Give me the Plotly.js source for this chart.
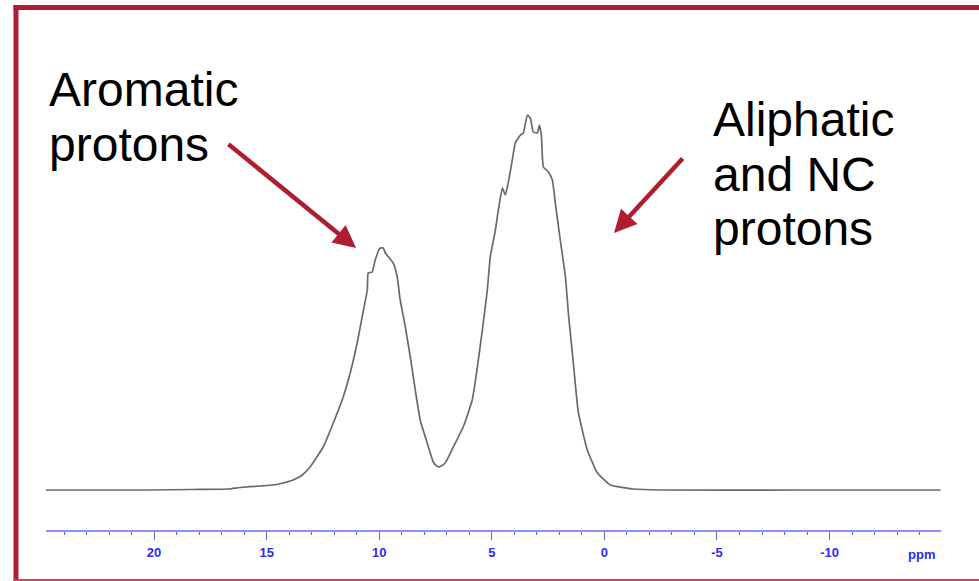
<!DOCTYPE html>
<html>
<head>
<meta charset="utf-8">
<script src="https://cdn.plot.ly/plotly-3.0.1.min.js"></script>
<style>
  html, body { margin: 0; padding: 0; background: #ffffff; }
  #chart { width: 979px; height: 581px; }
</style>
</head>
<body>
<div id="chart"></div>
<script>
// Chemical shift (ppm)
const shiftPpm = [24.8, 22.4, 20.18, 18.31, 16.71, 16.18, 15.29, 14.71, 14.27, 13.82, 13.42, 13.07,
  12.49, 12.04, 11.6, 11.29, 10.98, 10.76, 10.53, 10.49, 10.31, 10.18, 9.96, 9.82, 9.73, 9.38,
  9.2, 9.07, 8.84, 8.62, 8.4, 8.18, 7.87, 7.6, 7.45, 7.3, 7.07, 6.71, 6.27, 5.87, 5.64, 5.42, 5.2,
  5.07, 4.84, 4.71, 4.53, 4.4, 4.27, 4.09, 3.96, 3.73, 3.6, 3.42, 3.29, 3.16, 2.98, 2.89, 2.8,
  2.71, 2.49, 2.31, 2.18, 1.96, 1.73, 1.6, 1.38, 1.16, 0.76, 0.31, -0.27, -1.29, -2.49, -8.71, -14.93];
// Signal intensity (relative, tallest peak = 100)
const intensity = [0, 0, 0, 0.13, 0.27, 0.67, 1.07, 1.33, 1.87, 2.67, 4.0, 6.13,
  11.47, 17.87, 24.8, 31.2, 39.2, 46.13, 53.33, 57.87, 58.13, 61.33, 64.53, 64.53, 63.2, 60.53,
  56.8, 50.67, 43.47, 35.47, 26.67, 18.67, 12.53, 7.47, 6.4, 6.2, 7.2, 11.47, 16.8, 24.0, 32.8, 42.67, 53.33,
  62.13, 69.33, 74.67, 80.53, 78.67, 81.87, 88.0, 92.53, 94.67, 95.2, 100.0, 99.2, 95.47, 95.2, 97.33, 94.67,
  86.13, 84.8, 82.67, 76.53, 66.67, 56.8, 47.2, 33.87, 20.8, 10.67, 4.53, 1.33, 0.27, 0, 0, 0];

const tickValues = [20, 15, 10, 5, 0, -5, -10];
const tickLabels = ["20", "15", "10", "5", "0", "-5", "-10"];
const axisUnit = "ppm";
const leftLabel = ["Aromatic", "protons"];
const rightLabel = ["Aliphatic", "and NC", "protons"];

// layout geometry (pixels)
const W = 979, H = 581;
const mL = 46, mR = 38, mT = 0, mB = 51;
const pw = W - mL - mR, ph = H - mT - mB;
const px = x => (x - mL) / pw;
const py = y => (H - mB - y) / ph;

const red = "#b01d30";
const blue = "#2b2bef";
const textFont = { family: "Liberation Sans, Arial, sans-serif", size: 48, color: "#000000" };

const annotations = [];
function txt(s, x, y) {
  annotations.push({ text: s, xref: "paper", yref: "paper", x: px(x), y: py(y),
    xanchor: "left", yanchor: "middle", showarrow: false, font: textFont });
}
txt(leftLabel[0], 47, 90);
txt(leftLabel[1], 47, 144);
txt(rightLabel[0], 711, 120);
txt(rightLabel[1], 711, 174);
txt(rightLabel[2], 711, 228);

function arrow(tipX, tipY, tailX, tailY) {
  annotations.push({ text: "", xref: "paper", yref: "paper", x: px(tipX), y: py(tipY),
    ax: tailX - tipX, ay: tailY - tipY, showarrow: true, arrowhead: 2, arrowsize: 1,
    arrowwidth: 4.5, arrowcolor: red, standoff: 0 });
}
arrow(356, 248, 227, 143);
arrow(614, 233, 684, 157);

annotations.push({ text: "<b>" + axisUnit + "</b>", xref: "paper", yref: "paper",
  x: px(921), y: py(554), xanchor: "center", yanchor: "middle", showarrow: false,
  font: { family: "Liberation Sans, Arial, sans-serif", size: 13, color: blue } });

const shapes = [
  { type: "rect", xref: "paper", yref: "paper", x0: px(13.5), x1: px(18.5), y0: py(5), y1: py(581),
    fillcolor: red, line: { width: 0 } },
  { type: "rect", xref: "paper", yref: "paper", x0: px(13.5), x1: px(979), y0: py(5), y1: py(10),
    fillcolor: red, line: { width: 0 } },
  { type: "rect", xref: "paper", yref: "paper", x0: px(13.5), x1: px(979), y0: py(579), y1: py(581),
    fillcolor: "#c9485a", line: { width: 0 } }
];

const trace = {
  x: shiftPpm, y: intensity, type: "scatter", mode: "lines",
  line: { color: "#6a6a6a", width: 1.7, shape: "spline", smoothing: 0.4 }, hoverinfo: "skip"
};

const baselinePx = 490, peakPx = 115;
const unitPx = (baselinePx - peakPx) / 100;
const yMin = -(H - mB - baselinePx) / unitPx;
const yMax = (baselinePx - mT) / unitPx;

const layout = {
  width: W, height: H,
  margin: { l: mL, r: mR, t: mT, b: mB, pad: 0 },
  paper_bgcolor: "#ffffff", plot_bgcolor: "#ffffff",
  showlegend: false,
  xaxis: {
    range: [24.8, -14.95], autorange: false,
    showgrid: false, zeroline: false,
    showline: true, linecolor: "#8d8dfb", linewidth: 2,
    ticks: "outside", ticklen: 8, tickwidth: 1, tickcolor: "#5a5af5",
    tickvals: tickValues, ticktext: tickLabels,
    tickfont: { family: "Liberation Sans, Arial, sans-serif", size: 13, color: blue, weight: "bold" },
    ticklabelstandoff: 1,
    minor: { dtick: 1, tick0: 0, ticks: "outside", ticklen: 3, tickwidth: 1, tickcolor: "#5a5af5", showgrid: false }
  },
  yaxis: { range: [yMin, yMax], autorange: false, visible: false, showgrid: false, zeroline: false },
  annotations: annotations,
  shapes: shapes
};

Plotly.newPlot("chart", [trace], layout, { staticPlot: true, displayModeBar: false });
</script>
</body>
</html>
